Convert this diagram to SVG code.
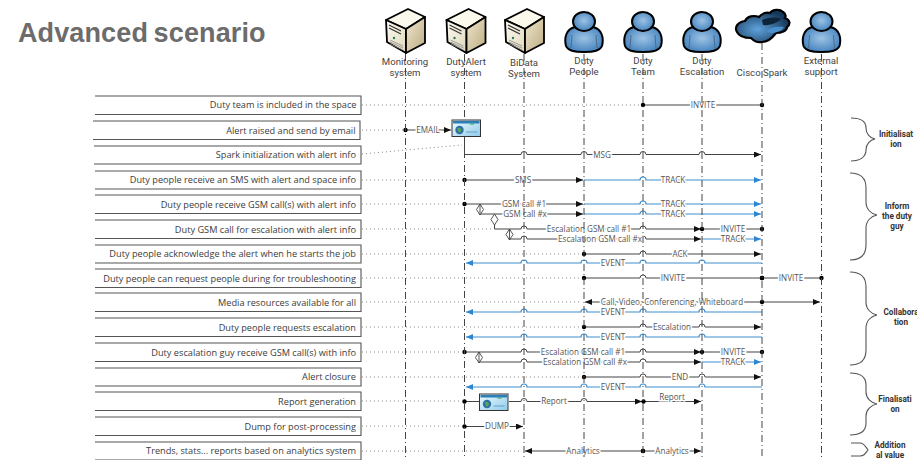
<svg xmlns="http://www.w3.org/2000/svg" xmlns:xlink="http://www.w3.org/1999/xlink" width="917" height="460" viewBox="0 0 917 460">
<style>
text{font-family:"Open Sans","Liberation Sans",sans-serif;fill:#444}
.title{font-family:"Liberation Sans",Arial,sans-serif;font-size:27px;font-weight:700;fill:#6c6c6c;word-spacing:-2px;letter-spacing:.12px}
.nl{font-family:Roboto,"Liberation Sans",sans-serif;font-size:9.6px;text-anchor:middle;fill:#444}
.rl{font-size:9.2px;text-anchor:end;fill:#3c3c3c}
.cl{font-size:8.1px;text-anchor:middle;fill:#555;paint-order:stroke;stroke:#fff;stroke-width:3px}
.gl{font-family:Roboto,"Liberation Sans",sans-serif;font-size:8.2px;font-weight:700;text-anchor:middle;fill:#333}
.box{fill:#fff;stroke:#555;stroke-width:1.1}
.life{fill:none;stroke:#444;stroke-width:1;stroke-dasharray:7 3 1 3}
.dot{fill:none;stroke:#888;stroke-width:1;stroke-dasharray:1 3}
.k{fill:none;stroke:#444;stroke-width:1}
.ka{marker-end:url(#ak)}
.ks{marker-start:url(#ds)}
.b{fill:none;stroke:#3f8fd0;stroke-width:1.2}
.ba{marker-end:url(#ab)}
.brace{fill:none;stroke:#555;stroke-width:1.1}
.dm{fill:#fff;stroke:#444;stroke-width:.9}
.dp{fill:#000}
</style>
<defs>
<marker id="ak" markerUnits="userSpaceOnUse" markerWidth="7" markerHeight="6" refX="7" refY="3" orient="auto-start-reverse"><path d="M0 0L7 3L0 6Z" fill="#111"/></marker>
<marker id="ab" markerUnits="userSpaceOnUse" markerWidth="7" markerHeight="6" refX="7" refY="3" orient="auto-start-reverse"><path d="M0 0L7 3L0 6Z" fill="#2f86d0"/></marker>
<marker id="ds" markerUnits="userSpaceOnUse" markerWidth="6" markerHeight="6" refX="3" refY="3"><circle cx="3" cy="3" r="2.2" fill="#000"/></marker>
<linearGradient id="gf" x1="0" y1="0" x2="1" y2="1"><stop offset="0" stop-color="#fdfbf2"/><stop offset="1" stop-color="#e0d7ba"/></linearGradient>
<linearGradient id="gs" x1="0" y1="0" x2="1" y2="1"><stop offset="0" stop-color="#f0e7cd"/><stop offset="1" stop-color="#bcab82"/></linearGradient>
<radialGradient id="gp" cx=".5" cy=".45" r=".6"><stop offset="0" stop-color="#9dc3e4"/><stop offset="1" stop-color="#3f7fbc"/></radialGradient>
<radialGradient id="gc" cx=".4" cy=".6" r=".6"><stop offset="0" stop-color="#5fa3dc"/><stop offset="1" stop-color="#16385a"/></radialGradient>
<linearGradient id="gm" x1="0" y1="0" x2="1" y2="1"><stop offset="0" stop-color="#f2fbff"/><stop offset="1" stop-color="#8fcbea"/></linearGradient>
<g id="server">
<path d="M0 11L22 0L39 8L20 20Z" fill="#fbf8ec" stroke="#000" stroke-width="1.8" stroke-linejoin="round"/>
<path d="M0 11L20 20V44L1 33Z" fill="url(#gf)" stroke="#000" stroke-width="1.8" stroke-linejoin="round"/>
<path d="M20 20L39 8V34L20 44Z" fill="url(#gs)" stroke="#000" stroke-width="1.8" stroke-linejoin="round"/>
<path d="M3 16L15 22M3 19L15 25" stroke="#333" stroke-width="1.2"/>
<circle cx="8" cy="29" r="1.2" fill="#2b7a5a"/>
<path d="M4 33L17 39M4 35L17 41M4 31L17 37" stroke="#888" stroke-width=".8"/>
</g>
<g id="person">
<path d="M-18 46C-20 38-18 29-9 27C-4 31 4 31 9 27C18 29 20 38 18 46C16 51 10 52 0 52C-10 52-16 51-18 46Z" fill="url(#gp)" stroke="#000" stroke-width="2"/>
<path d="M-12 35L-13 48M12 35L13 48" stroke="#4a6d8e" stroke-width="1" fill="none"/>
<ellipse cx="0" cy="21.500" rx="11" ry="9.500" fill="url(#gp)" stroke="#000" stroke-width="2"/>
</g>
<g id="mail">
<rect x="0" y="0" width="28.500" height="16.500" fill="url(#gm)" stroke="#333" stroke-width="1"/>
<rect x="1" y="1" width="26.500" height="2.500" fill="#2a7fb8"/>
<rect x="18" y="3.500" width="4" height="1.200" fill="#3bb273"/>
<circle cx="7.500" cy="10" r="4.200" fill="#2b6fae"/>
<path d="M5 8.500Q7.500 7 9 9T7 13Z" fill="#5ca34a"/>
<path d="M14 12H25" stroke="#4f93c0" stroke-width=".8"/>
</g>
</defs>

<rect width="917" height="460" fill="#fff"/>
<text class="title" x="18" y="42">Advanced scenario</text>

<g id="node-monitoring"><use xlink:href="#server" href="#server" x="386" y="9"/><text class="nl" x="405" y="65">Monitoring</text><text class="nl" x="405" y="76">system</text></g>
<g id="node-dutyalert"><use xlink:href="#server" href="#server" x="446.500" y="9"/><text class="nl" x="466" y="65">DutyAlert</text><text class="nl" x="466" y="76">system</text></g>
<g id="node-bidata"><use xlink:href="#server" href="#server" x="505" y="9"/><text class="nl" x="524" y="65.500">BiData</text><text class="nl" x="524" y="76.500">System</text></g>
<g id="node-dutypeople"><use xlink:href="#person" href="#person" x="584" y="0"/><text class="nl" x="584" y="63.500">Duty</text><text class="nl" x="584" y="74.500">People</text></g>
<g id="node-dutyteam"><use xlink:href="#person" href="#person" x="643" y="0"/><text class="nl" x="643" y="63.500">Duty</text><text class="nl" x="643" y="74.500">Team</text></g>
<g id="node-dutyescalation"><use xlink:href="#person" href="#person" x="702" y="0"/><text class="nl" x="702" y="63.500">Duty</text><text class="nl" x="702" y="74.500">Escalation</text></g>
<g id="node-spark">
<path d="M737 32C734 27 738 22 745 21C747 16 754 15 759 17C762 13 767 12 770 13C773 9 780 9 783 12C786 14 786 17 785 18C790 20 791 24 787 27C787 31 781 33 776 33C773 37 768 42 762 42C757 43 753 40 751 38C744 38 739 36 737 32Z" fill="url(#gc)" stroke="#000" stroke-width="2.200"/>
<path d="M762 20C766 18 776 16 781 19C779 22 770 26 763 25Z" fill="#0e2438"/>
<path d="M766 31C770 27 778 26 784 27C782 31 776 33 770 33Z" fill="#4a8ecb"/>
<text class="nl" x="762" y="76">Cisco Spark</text>
</g>
<g id="node-external"><use xlink:href="#person" href="#person" x="821.500" y="0"/><text class="nl" x="821" y="63.500">External</text><text class="nl" x="821" y="74.500">support</text></g>

<g id="row-1"><path class="box" d="M95 96H361V114.500H95"/><text class="rl" x="356.500" y="108">Duty team is included in the space</text></g>
<g id="row-2"><path class="box" d="M93 121H360V139.500H93"/><text class="rl" x="355.500" y="133.500">Alert raised and send by email</text></g>
<g id="row-3"><path class="box" d="M94 146H361V164H94"/><text class="rl" x="356" y="158">Spark initialization with alert info</text></g>
<g id="row-4"><path class="box" d="M95 171H361V189H95"/><text class="rl" x="356" y="183">Duty people receive an SMS with alert and space info</text></g>
<g id="row-5"><path class="box" d="M95 195H361V213.500H95"/><text class="rl" x="356" y="207.500">Duty people receive GSM call(s) with alert info</text></g>
<g id="row-6"><path class="box" d="M95 220H361V238.500H95"/><text class="rl" x="356" y="232.500">Duty GSM call for escalation with alert info</text></g>
<g id="row-7"><path class="box" d="M95 245H361V263H95"/><text class="rl" x="356" y="257">Duty people acknowledge the alert when he starts the job</text></g>
<g id="row-8"><path class="box" d="M95 269H361V287.500H95"/><text class="rl" x="356" y="281.500">Duty people can request people during for troubleshooting</text></g>
<g id="row-9"><path class="box" d="M95 293H361V311.500H95"/><text class="rl" x="356" y="305.500">Media resources available for all</text></g>
<g id="row-10"><path class="box" d="M95 318H361V336.500H95"/><text class="rl" x="356" y="330.500">Duty people requests escalation</text></g>
<g id="row-11"><path class="box" d="M95 343H361V361.500H95"/><text class="rl" x="356" y="355.500">Duty escalation guy receive GSM call(s) with info</text></g>
<g id="row-12"><path class="box" d="M95 368H361V386H95"/><text class="rl" x="356" y="380">Alert closure</text></g>
<g id="row-13"><path class="box" d="M95 392H361V410.500H95"/><text class="rl" x="356" y="404.500">Report generation</text></g>
<g id="row-14"><path class="box" d="M95 417H361V435.500H95"/><text class="rl" x="356" y="429.500">Dump for post-processing</text></g>
<g id="row-15"><path class="box" d="M95 442H361V460H95"/><text class="rl" x="356" y="454">Trends, stats... reports based on analytics system</text></g>

<g id="connectors">
<path class="dot" d="M362 105H641M362 130H403M362 154L462 145M362 180H462M362 204H462M362 229H492M362 254H582M362 278H582M362 302H582M362 327H582M362 352H462M362 377H582M362 401H462M362 426H462M362 451H522"/>

<path class="k ks" d="M643 105H762" marker-end="url(#ds)"/>
<path class="k ks ka" d="M405.500 130H451"/>
<path class="k ka" d="M464.500 137V154.500H521a3 3 0 0 1 6 0H581a3 3 0 0 1 6 0H640a3 3 0 0 1 6 0H699a3 3 0 0 1 6 0H761"/>

<path class="k ks ka" d="M464.500 180H583"/>
<path class="b ba" d="M584 180H640a3 3 0 0 1 6 0H761"/>
<path class="k ks ka" d="M464.500 204H583"/>
<path class="b ba" d="M584 204H640a3 3 0 0 1 6 0H761"/>
<path class="k ka" d="M480 204V214H583"/>
<path class="b ba" d="M584 214H640a3 3 0 0 1 6 0H761"/>
<path class="k ka" d="M494.500 216V229H521a3 3 0 0 1 6 0H640a3 3 0 0 1 6 0H701"/>
<path class="k ks" d="M702 229H762" marker-end="url(#ds)"/>
<path class="k ka" d="M509.500 229V239H521a3 3 0 0 1 6 0H640a3 3 0 0 1 6 0H701"/>
<path class="b ba" d="M702 239H761"/>
<path class="k ks ka" d="M584 254H640a3 3 0 0 1 6 0H761"/>
<path class="b ba" d="M762 263H705a3 3 0 0 0 -6 0H646a3 3 0 0 0 -6 0H587a3 3 0 0 0 -6 0H527a3 3 0 0 0 -6 0H466"/>
<path class="k ks" d="M584 278H640a3 3 0 0 1 6 0H762" marker-end="url(#ds)"/>
<path class="k ks" d="M762 278H821.500" marker-end="url(#ds)"/>
<path class="k" d="M585 302H820" marker-start="url(#ak)" marker-end="url(#ak)"/>
<circle class="dp" cx="762" cy="302" r="2.200"/>
<path class="b ba" d="M762 312H705a3 3 0 0 0 -6 0H646a3 3 0 0 0 -6 0H587a3 3 0 0 0 -6 0H527a3 3 0 0 0 -6 0H466"/>
<path class="k ks ka" d="M584 327H640a3 3 0 0 1 6 0H699a3 3 0 0 1 6 0H761"/>
<path class="b ba" d="M762 337H705a3 3 0 0 0 -6 0H646a3 3 0 0 0 -6 0H587a3 3 0 0 0 -6 0H527a3 3 0 0 0 -6 0H466"/>
<path class="k ks ka" d="M464.500 352H521a3 3 0 0 1 6 0H640a3 3 0 0 1 6 0H701"/>
<path class="k ks" d="M702 352H762" marker-end="url(#ds)"/>
<path class="k ka" d="M479 352V362H521a3 3 0 0 1 6 0H640a3 3 0 0 1 6 0H701"/>
<path class="b ba" d="M702 362H761"/>
<path class="k ks ka" d="M584 377H640a3 3 0 0 1 6 0H699a3 3 0 0 1 6 0H761"/>
<path class="b ba" d="M762 387H705a3 3 0 0 0 -6 0H646a3 3 0 0 0 -6 0H587a3 3 0 0 0 -6 0H527a3 3 0 0 0 -6 0H466"/>
<path class="k ks" d="M464.500 401.500H479"/>
<path class="k ka" d="M509 401.500H521a3 3 0 0 1 6 0H581a3 3 0 0 1 6 0H642"/>
<path class="k ks ka" d="M643.500 401.500H701"/>
<path class="k ks ka" d="M464.500 426.500H523"/>
<path class="k ka" d="M643 451H525"/>
<path class="k ks ka" d="M643 451H701"/>
<circle class="dp" cx="643" cy="451" r="2.200"/>

<path class="dm" d="M480 204L483.500 209.500L480 215L476.500 209.500ZM480 204V215"/>
<path class="dm" d="M494.500 214L498 219.500L494.500 225L491 219.500Z"/>
<path class="dm" d="M509.500 229L513 234.500L509.500 240L506 234.500ZM509.500 229V240"/>
<path class="dm" d="M479 352L482.500 357.500L479 363L475.500 357.500ZM479 352V363"/>

<use xlink:href="#mail" href="#mail" x="452" y="120"/>
<use xlink:href="#mail" href="#mail" x="479.500" y="394"/>

<text class="cl" x="703" y="108">INVITE</text>
<text class="cl" x="428" y="133">EMAIL</text>
<text class="cl" x="602" y="158">MSG</text>
<text class="cl" x="523" y="183">SMS</text>
<text class="cl" x="673" y="183">TRACK</text>
<text class="cl" x="524" y="207">GSM call #1</text>
<text class="cl" x="673" y="207">TRACK</text>
<text class="cl" x="525" y="217">GSM call #x</text>
<text class="cl" x="673" y="217">TRACK</text>
<text class="cl" x="589" y="232">Escalation GSM call #1</text>
<text class="cl" x="733" y="232">INVITE</text>
<text class="cl" x="600" y="242">Escalation GSM call #x</text>
<text class="cl" x="733" y="242">TRACK</text>
<text class="cl" x="680" y="257">ACK</text>
<text class="cl" x="613" y="266">EVENT</text>
<text class="cl" x="673" y="281">INVITE</text>
<text class="cl" x="791" y="281">INVITE</text>
<text class="cl" x="672" y="305">Call, Video, Conferencing, Whiteboard</text>
<text class="cl" x="613" y="315">EVENT</text>
<text class="cl" x="672" y="330">Escalation</text>
<text class="cl" x="613" y="340">EVENT</text>
<text class="cl" x="583" y="355">Escalation GSM call #1</text>
<text class="cl" x="733" y="355">INVITE</text>
<text class="cl" x="585" y="365">Escalation GSM call #x</text>
<text class="cl" x="733" y="365">TRACK</text>
<text class="cl" x="680" y="380">END</text>
<text class="cl" x="613" y="390">EVENT</text>
<text class="cl" x="554" y="404">Report</text>
<text class="cl" x="672" y="400">Report</text>
<text class="cl" x="497" y="429">DUMP</text>
<text class="cl" x="583" y="454">Analytics</text>
<text class="cl" x="672" y="454">Analytics</text>

<g id="lifelines">
<path class="life" d="M405.500 54V458"/>
<path class="life" d="M464.500 54V119M464.500 137V458"/>
<path class="life" d="M524 54V458"/>
<path class="life" d="M584 54V458"/>
<path class="life" d="M643 54V458"/>
<path class="life" d="M702 54V458"/>
<path class="life" d="M762 43V458"/>
<path class="life" d="M821.500 54V458"/>
</g>
</g>

<g id="group-initialisation"><path class="brace" d="M851 118C860 118 866 121 866 128C866 134 870 138 875 139C870 140 866 144 866 150C866 157 860 161 851 161"/><text class="gl" x="896" y="137">Initialisat</text><text class="gl" x="896" y="147">ion</text></g>
<g id="group-inform"><path class="brace" d="M850 173C860 173 866 178 866 188V202C866 209 871 214 877 215C871 216 866 221 866 228V245C866 255 860 260 850 260"/><text class="gl" x="897" y="209">Inform</text><text class="gl" x="897" y="219">the duty</text><text class="gl" x="897" y="229">guy</text></g>
<g id="group-collaboration"><path class="brace" d="M850 272C860 272 866 277 866 287V302C866 309 871 314 877 315C871 316 866 321 866 328V350C866 360 860 365 850 365"/><text class="gl" x="901" y="315">Collabora</text><text class="gl" x="901" y="325">tion</text></g>
<g id="group-finalisation"><path class="brace" d="M850 373C860 373 866 377 866 385V392C866 398 871 403 877 404C871 405 866 410 866 416V423C866 431 860 435 850 435"/><text class="gl" x="895" y="402">Finalisati</text><text class="gl" x="895" y="412">on</text></g>
<g id="group-additional"><path class="brace" d="M851 443H860C864 443 865 446 868 450C865 454 864 456 860 456H851"/><text class="gl" x="890" y="448">Addition</text><text class="gl" x="890" y="458">al value</text></g>
</svg>
